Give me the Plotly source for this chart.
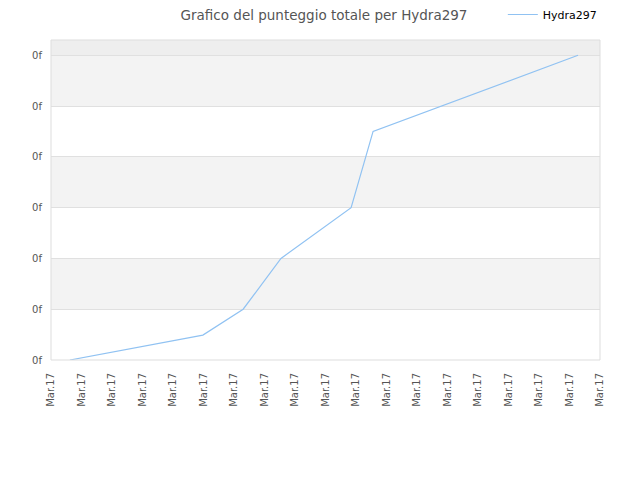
import plotly.graph_objects as go

# Data (x as position index along the time axis, y as score in tick units)
x_pos = [0.62, 4.98, 6.3, 7.54, 9.84, 10.56, 17.28]
scores = [0.0, 0.49, 1.0, 2.0, 3.0, 4.5, 6.0]
x_tick_vals = list(range(19))
x_tick_labels = ["Mar.17"] * 19
y_tick_vals = [0, 1, 2, 3, 4, 5, 6]
y_tick_labels = ["0f"] * 7
series_name = "Hydra297"

fig = go.Figure()
fig.add_trace(go.Scatter(
    x=x_pos, y=scores, mode="lines", name=series_name,
    line=dict(color="#90c2f2", width=1.2),
))

shapes = []
# alternating bands
for i in range(0, 6):
    if i % 2 == 1:
        shapes.append(dict(type="rect", xref="paper", yref="y", x0=0, x1=1,
                           y0=y_tick_vals[i], y1=y_tick_vals[i + 1],
                           fillcolor="#f3f3f3", line_width=0, layer="below"))
shapes.append(dict(type="rect", xref="paper", yref="y", x0=0, x1=1,
                   y0=6, y1=6.3, fillcolor="#eeeeee", line_width=0, layer="below"))
shapes.append(dict(type="rect", xref="paper", yref="paper", x0=0, x1=1, y0=0, y1=1,
                   line=dict(color="#dddddd", width=1), fillcolor="rgba(0,0,0,0)"))

W, H = 632, 472
fig.update_layout(
    width=W, height=H,
    margin=dict(l=43, r=40, t=32, b=120, autoexpand=False),
    paper_bgcolor="white", plot_bgcolor="white",
    font=dict(family="DejaVu Sans", size=10, color="#555555"),
    title=dict(text="Grafico del punteggio totale per Hydra297", x=0.5, xanchor="center",
               y=1 - 7 / H, yanchor="middle", font=dict(size=13.5, color="#555555")),
    showlegend=True,
    legend=dict(x=0.823, xanchor="left", y=1.125, yanchor="top",
                font=dict(size=11, color="#000000"), bgcolor="rgba(0,0,0,0)"),
    shapes=shapes,
    xaxis=dict(range=[0, 18], tickvals=x_tick_vals, ticktext=x_tick_labels,
               tickangle=-90, showgrid=False, zeroline=False, showline=False,
               ticks="", ticklabelstandoff=10, tickfont=dict(size=10, color="#555555")),
    yaxis=dict(range=[0, 6.3], tickvals=y_tick_vals, ticktext=y_tick_labels,
               showgrid=True, gridcolor="#e0e0e0", zeroline=False, showline=False,
               ticks="", ticklabelstandoff=8, tickfont=dict(size=10, color="#555555")),
)

fig.write_html("out.html")
